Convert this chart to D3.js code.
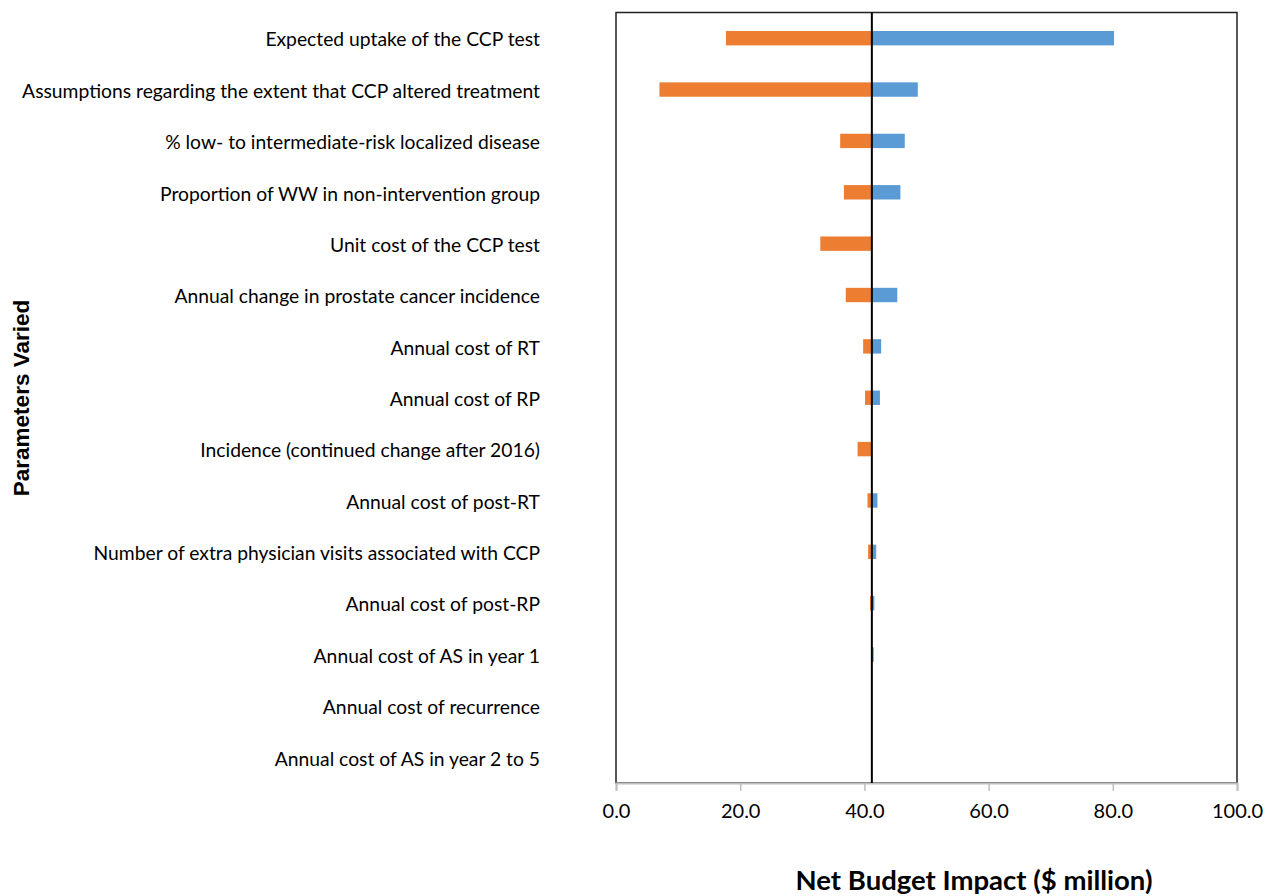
<!DOCTYPE html>
<html>
<head>
<meta charset="utf-8">
<script src="https://cdn.jsdelivr.net/npm/d3@7"></script>
<style>
  body { margin: 0; background: #fff; }
</style>
</head>
<body>
<div id="chart"></div>
<script>
// parameters, top to bottom
const params = [
    "Expected uptake of the CCP test",
    "Assumptions regarding the extent that CCP altered treatment",
    "% low- to intermediate-risk localized disease",
    "Proportion of WW in non-intervention group",
    "Unit cost of the CCP test",
    "Annual change in prostate cancer incidence",
    "Annual cost of RT",
    "Annual cost of RP",
    "Incidence (continued change after 2016)",
    "Annual cost of post-RT",
    "Number of extra physician visits associated with CCP",
    "Annual cost of post-RP",
    "Annual cost of AS in year 1",
    "Annual cost of recurrence",
    "Annual cost of AS in year 2 to 5"
];
const baseCase = 41.2;
// low end of each range (orange) and high end (blue), $ million
const lowValues  = [17.7, 7.0, 36.1, 36.7, 32.9, 37.0, 39.8, 40.1, 38.9, 40.5, 40.6, 40.9, 41.2, 41.2, 41.2];
const highValues = [80.2, 48.6, 46.5, 45.8, 41.2, 45.3, 42.7, 42.5, 41.2, 42.1, 41.9, 41.6, 41.5, 41.2, 41.2];
const xTicks = [0, 20, 40, 60, 80, 100];

const width = 1272, height = 896;
const margin = { top: 12.5, right: 35, bottom: 113, left: 616 };
const innerW = width - margin.left - margin.right;
const innerH = height - margin.top - margin.bottom;

const svg = d3.select("#chart")
    .append("svg")
    .attr("width", width)
    .attr("height", height)
    .style("font-family", "Lato, 'Open Sans', sans-serif");

const g = svg.append("g")
    .attr("transform", `translate(${margin.left},${margin.top})`);

const xScale = d3.scaleLinear().domain([0, 100]).range([0, innerW]);
const yScale = d3.scaleBand().domain(params).range([0, innerH]).paddingInner(0.72).paddingOuter(0.36);

// frame
g.append("rect")
    .attr("width", innerW)
    .attr("height", innerH)
    .attr("fill", "none")
    .attr("stroke", "#222")
    .attr("stroke-width", 1.5);

const rows = params.map((p, i) => ({ p, lo: lowValues[i], hi: highValues[i] }));

g.selectAll(".low")
    .data(rows.filter(d => d.lo < baseCase))
    .enter()
    .append("rect")
    .attr("class", "low")
    .attr("x", d => xScale(d.lo))
    .attr("y", d => yScale(d.p))
    .attr("width", d => xScale(baseCase) - xScale(d.lo))
    .attr("height", yScale.bandwidth())
    .attr("fill", "#ED7D31");

g.selectAll(".high")
    .data(rows.filter(d => d.hi > baseCase))
    .enter()
    .append("rect")
    .attr("class", "high")
    .attr("x", xScale(baseCase))
    .attr("y", d => yScale(d.p))
    .attr("width", d => xScale(d.hi) - xScale(baseCase))
    .attr("height", yScale.bandwidth())
    .attr("fill", "#5B9BD5");

// x axis
const xAxis = g.append("g")
    .attr("transform", `translate(0,${innerH})`)
    .call(d3.axisBottom(xScale).tickValues(xTicks).tickSize(8).tickPadding(13).tickFormat(d3.format(".1f")));
xAxis.select(".domain").attr("stroke", "#bfbfbf").attr("stroke-width", 2);
xAxis.selectAll(".tick line").attr("stroke", "#bfbfbf").attr("stroke-width", 1.5);
xAxis.selectAll(".tick text")
    .attr("font-family", "Lato, sans-serif")
    .attr("font-size", "20px")
    .attr("fill", "#000");

// base case line
g.append("line")
    .attr("x1", xScale(baseCase))
    .attr("x2", xScale(baseCase))
    .attr("y1", 0)
    .attr("y2", innerH)
    .attr("stroke", "#000")
    .attr("stroke-width", 2);

// parameter labels
svg.append("g")
    .selectAll("text")
    .data(params)
    .enter()
    .append("text")
    .attr("x", 540)
    .attr("y", d => margin.top + yScale(d) + yScale.bandwidth() / 2 + 1.5)
    .attr("dy", "0.35em")
    .attr("text-anchor", "end")
    .attr("font-size", "19.3px")
    .attr("fill", "#000")
    .text(d => d);

svg.append("text")
    .attr("x", 974)
    .attr("y", 890)
    .attr("text-anchor", "middle")
    .attr("font-size", "27.5px")
    .attr("font-weight", "bold")
    .text("Net Budget Impact ($ million)");

svg.append("text")
    .attr("transform", "translate(29,398) rotate(-90)")
    .attr("text-anchor", "middle")
    .attr("font-family", "'Liberation Sans', Arial, sans-serif")
    .attr("font-size", "22.5px")
    .attr("font-weight", "bold")
    .text("Parameters Varied");
</script>
</body>
</html>
